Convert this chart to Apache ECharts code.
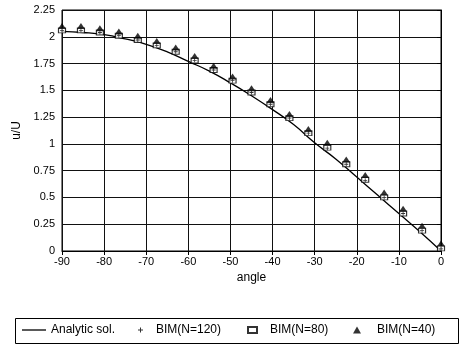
<!DOCTYPE html>
<html>
<head>
<meta charset="utf-8">
<script src="https://cdn.jsdelivr.net/npm/echarts@6/dist/echarts.min.js"></script>
<style>
  html, body { margin: 0; padding: 0; background: #fff; }
  #chart { width: 460px; height: 348px; }
</style>
</head>
<body>
<div id="chart"></div>
<script>
// angles of the BIM points (every 4.5 deg)
var angles = [-90, -85.5, -81, -76.5, -72, -67.5, -63, -58.5, -54, -49.5, -45,
  -40.5, -36, -31.5, -27, -22.5, -18, -13.5, -9, -4.5, 0];
var bim120 = [2.06, 2.06, 2.04, 2.01, 1.97, 1.92, 1.86, 1.78, 1.69, 1.59, 1.48,
  1.37, 1.24, 1.10, 0.96, 0.81, 0.66, 0.50, 0.35, 0.19, 0.02];
var bim80 = [2.06, 2.06, 2.04, 2.01, 1.97, 1.92, 1.86, 1.78, 1.69, 1.59, 1.48,
  1.37, 1.24, 1.10, 0.965, 0.81, 0.665, 0.50, 0.35, 0.19, 0.025];
var bim40 = [2.10, 2.10, 2.08, 2.05, 2.01, 1.96, 1.90, 1.82, 1.73, 1.63, 1.52,
  1.41, 1.28, 1.14, 1.01, 0.855, 0.71, 0.545, 0.395, 0.235, 0.07];

// analytic curve read every 5 deg
var lineAngles = [-90, -85, -80, -75, -70, -65, -60, -55, -50, -45, -40,
  -35, -30, -25, -20, -15, -10, -5, 0];
var analytic = [2.05, 2.04, 2.02, 1.98, 1.93, 1.86, 1.77, 1.68, 1.57, 1.45, 1.32,
  1.18, 1.01, 0.86, 0.69, 0.52, 0.35, 0.18, 0.0];

var FONT = "'Liberation Sans', Arial, sans-serif";
var plusIcon = 'path://M2,0H3V2H5V3H3V5H2V3H0V2H2Z';

function pairs(xs, ys) {
  var out = [];
  for (var i = 0; i < xs.length; i++) {
    out.push([xs[i], ys[i]]);
  }
  return out;
}

// one small legend per entry so each sits where it is in the scan
function legendAt(item, left, w, h, gap) {
  return {
    data: [item],
    left: left,
    top: 324,
    itemWidth: w,
    itemHeight: h,
    itemGap: 0,
    padding: 0,
    selectedMode: false,
    textStyle: { color: '#000', fontFamily: FONT, fontSize: 12, padding: [0, 0, 0, gap] }
  };
}

var myChart = echarts.init(document.getElementById('chart'), null, { renderer: 'canvas' });
var option = {
  animation: false,
  backgroundColor: '#fff',
  grid: {
    show: true,
    left: 62,
    right: 19,
    top: 10,
    bottom: 97,
    borderColor: '#000',
    borderWidth: 1
  },
  xAxis: {
    type: 'value',
    min: -90,
    max: 0,
    interval: 10,
    name: 'angle',
    nameLocation: 'middle',
    nameGap: 19,
    nameTextStyle: { color: '#000', fontFamily: FONT, fontSize: 12 },
    axisLine: { show: true, lineStyle: { color: '#000', width: 1 } },
    axisTick: { show: true, length: 4, lineStyle: { color: '#000' } },
    axisLabel: { color: '#000', fontFamily: FONT, fontSize: 11, margin: 5 },
    splitLine: { show: true, lineStyle: { color: '#111', width: 1 } }
  },
  yAxis: {
    type: 'value',
    min: 0,
    max: 2.25,
    interval: 0.25,
    name: 'u/U',
    nameLocation: 'middle',
    nameRotate: 90,
    nameGap: 39,
    nameTextStyle: { color: '#000', fontFamily: FONT, fontSize: 12 },
    axisLine: { show: true, lineStyle: { color: '#000', width: 1 } },
    axisTick: { show: true, length: 4, lineStyle: { color: '#000' } },
    axisLabel: { color: '#000', fontFamily: FONT, fontSize: 11, margin: 7 },
    splitLine: { show: true, lineStyle: { color: '#111', width: 1 } }
  },
  legend: [
    legendAt({ name: 'Analytic sol.', icon: 'rect' }, 22, 24, 1.3, 0),
    legendAt('BIM(N=120)', 138, 5, 5, 8),
    legendAt('BIM(N=80)', 247, 9, 6, 8),
    legendAt('BIM(N=40)', 353, 8, 7, 11)
  ],
  graphic: [{
    type: 'rect',
    shape: { x: 15.5, y: 318.5, width: 443, height: 25 },
    style: { fill: 'none', stroke: '#000', lineWidth: 1 },
    silent: true
  }],
  series: [
    {
      name: 'Analytic sol.',
      type: 'line',
      smooth: true,
      showSymbol: false,
      symbol: 'none',
      z: 2,
      lineStyle: { color: '#000', width: 1.3 },
      itemStyle: { color: '#000' },
      data: pairs(lineAngles, analytic)
    },
    {
      name: 'BIM(N=80)',
      type: 'scatter',
      symbol: 'rect',
      symbolSize: [7, 5],
      z: 3,
      itemStyle: { color: '#fff', borderColor: '#000', borderWidth: 1 },
      data: pairs(angles, bim80)
    },
    {
      name: 'BIM(N=120)',
      type: 'scatter',
      symbol: plusIcon,
      symbolSize: 4,
      z: 4,
      itemStyle: { color: '#000' },
      data: pairs(angles, bim120)
    },
    {
      name: 'BIM(N=40)',
      type: 'scatter',
      symbol: 'triangle',
      symbolSize: [8, 6],
      z: 5,
      itemStyle: { color: '#000' },
      data: pairs(angles, bim40)
    }
  ]
};
myChart.setOption(option);
</script>
</body>
</html>
